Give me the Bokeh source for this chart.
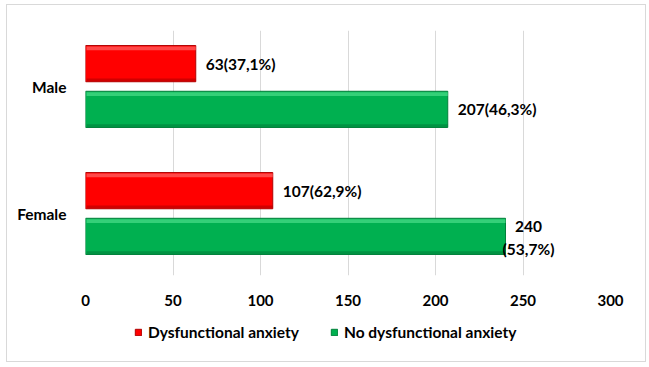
from bokeh.plotting import figure
from bokeh.layouts import column
from bokeh.models import ColumnDataSource, Legend, LegendItem, FixedTicker
from bokeh.transform import dodge
from bokeh.embed import file_html
from bokeh.resources import INLINE
from bokeh.core.properties import value

# ---- data ----
categories = ["Female", "Male"]
cat_pos = [0, 1]
dysfunctional = [107, 63]
no_dysfunctional = [240, 207]
labels_dys = ["107(62,9%)", "63(37,1%)"]
labels_no = ["240\n(53,7%)", "207(46,3%)"]
x_ticks = [0, 50, 100, 150, 200, 250, 300]
series_names = ["Dysfunctional anxiety", "No dysfunctional anxiety"]

FONT = "Lato"
RED, RED_HI, RED_DK = "#ff0000", "#ff5050", "#b00000"
GREEN, GREEN_HI, GREEN_DK = "#00b050", "#3ad47c", "#00803a"
BAR_H = 0.285
OFF = 0.18
W = 638

p = figure(width=W, height=310, x_range=(0, 300), y_range=(-0.488, 1.441),
           output_backend="svg", toolbar_location=None,
           min_border_left=78, min_border_right=35, min_border_top=25,
           min_border_bottom=40)
p.outline_line_color = None
p.background_fill_color = "white"
p.border_fill_color = "white"

src_d = ColumnDataSource(dict(y=cat_pos, right=dysfunctional, label=labels_dys))
src_n = ColumnDataSource(dict(y=cat_pos, right=no_dysfunctional, label=labels_no))

def bars(fig, src, off, fill, hi, dk):
    r = fig.hbar(y=dodge("y", off), left=0, right="right", height=BAR_H, source=src,
                 fill_color=fill, line_color=dk, line_width=1)
    # bevel highlight on top and shade at bottom
    fig.hbar(y=dodge("y", off + BAR_H / 2 - 0.022), left=0.6, right="right", height=0.03,
             source=src, fill_color=hi, line_color=None, fill_alpha=0.9)
    fig.hbar(y=dodge("y", off - BAR_H / 2 + 0.015), left=0.6, right="right", height=0.022,
             source=src, fill_color=dk, line_color=None, fill_alpha=0.6)
    return r

bars(p, src_d, OFF, RED, RED_HI, RED_DK)
bars(p, src_n, -OFF, GREEN, GREEN_HI, GREEN_DK)

# ---- data labels ----
def split(vals, labels):
    one = dict(y=[], right=[], label=[])
    two = dict(y=[], right=[], label=[])
    for y, v, l in zip(cat_pos, vals, labels):
        d = two if "\n" in l else one
        d["y"].append(y); d["right"].append(v); d["label"].append(l)
    return one, two

LBL = "15.5px"
for vals, labs, off in ((dysfunctional, labels_dys, OFF), (no_dysfunctional, labels_no, -OFF)):
    one, two = split(vals, labs)
    if one["y"]:
        p.text(x="right", y=dodge("y", off), text="label", source=ColumnDataSource(one),
               x_offset=10, text_align="left", text_baseline="middle",
               text_font=value(FONT), text_font_style="bold", text_font_size=LBL,
               text_color="black")
    if two["y"]:
        p.text(x="right", y=dodge("y", off), text="label", source=ColumnDataSource(two),
               x_offset=23, y_offset=1, text_align="center", text_baseline="middle",
               text_line_height=1.25,
               text_font=value(FONT), text_font_style="bold", text_font_size=LBL,
               text_color="black")

# ---- axes ----
p.xaxis.ticker = FixedTicker(ticks=x_ticks)
p.yaxis.ticker = FixedTicker(ticks=cat_pos)
p.yaxis.major_label_overrides = {c: n for c, n in zip(cat_pos, categories)}
for ax in (p.xaxis, p.yaxis):
    ax.axis_line_color = None
    ax.major_tick_line_color = None
    ax.minor_tick_line_color = None
    ax.major_label_text_font = FONT
    ax.major_label_text_font_style = "bold"
    ax.major_label_text_color = "black"
p.yaxis.major_label_text_font_size = "15.5px"
p.xaxis.major_label_text_font_size = "15px"
p.yaxis.major_label_standoff = 13
p.xaxis.major_label_standoff = 13

p.xgrid.ticker = FixedTicker(ticks=x_ticks)
p.xgrid.grid_line_color = "#d9d9d9"
p.ygrid.grid_line_color = None

# ---- legend strip (separate figure under the chart; its frame is aligned
#      with the chart's frame by the column layout) ----
pl = figure(width=W, height=46, x_range=(0, 300), y_range=(100, 101),
            output_backend="svg", toolbar_location=None, min_border=0,
            x_axis_location=None, y_axis_location=None)
pl.grid.grid_line_color = None
pl.outline_line_color = None
pl.background_fill_color = "white"
pl.border_fill_color = "white"
lr_d = pl.hbar(y="y", left=0, right="right", height=BAR_H, source=src_d,
               fill_color=RED, line_color=RED_DK)
lr_n = pl.hbar(y="y", left=0, right="right", height=BAR_H, source=src_n,
               fill_color=GREEN, line_color=GREEN_DK)
lr_d.visible = False
lr_n.visible = False
legend = Legend(items=[LegendItem(label=series_names[0], renderers=[lr_d]),
                       LegendItem(label=series_names[1], renderers=[lr_n])],
                orientation="horizontal", location=(49, 20),
                glyph_width=8, glyph_height=8, label_standoff=6, spacing=31,
                label_text_font=FONT, label_text_font_style="bold",
                label_text_font_size="15.5px", label_text_color="black",
                border_line_color=None, background_fill_alpha=0,
                inactive_fill_alpha=0,
                margin=0, padding=5)
pl.add_layout(legend, "center")

layout = column(p, pl, spacing=0, margin=(4, 0, 0, 6),
                styles={"border": "1px solid #d9d9d9"})

open("out.html", "w").write(file_html(layout, INLINE))
